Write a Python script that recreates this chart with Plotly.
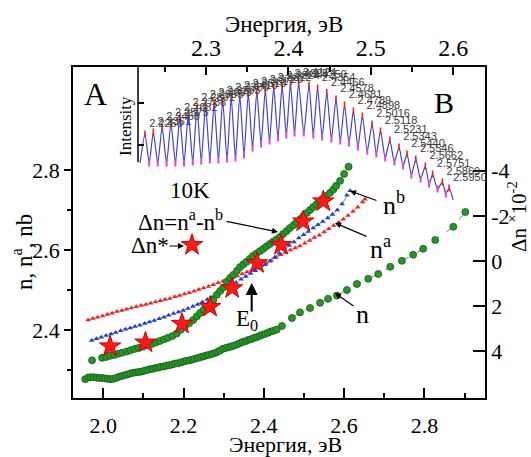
import plotly.graph_objects as go

SERIF = "Liberation Serif"
SANS = "Liberation Sans"

# ---------------- main panel data ----------------
# lower green curve: n
n_E = [1.955, 1.962, 1.969, 1.976, 1.983, 1.990, 1.997, 2.004, 2.011, 2.018, 2.025, 2.032, 2.039,
       2.046, 2.053, 2.060, 2.067, 2.074, 2.081, 2.088, 2.095, 2.102, 2.109, 2.116, 2.123, 2.130,
       2.137, 2.144, 2.151, 2.158, 2.165, 2.172, 2.179, 2.186, 2.193, 2.200, 2.207, 2.214, 2.221,
       2.228, 2.235, 2.242, 2.249, 2.256, 2.263, 2.270, 2.277, 2.284, 2.291, 2.298, 2.305, 2.312,
       2.319, 2.326, 2.333, 2.340, 2.347, 2.354, 2.361, 2.368, 2.375, 2.382, 2.389, 2.396, 2.403,
       2.410, 2.417, 2.424, 2.432,
       2.445, 2.470, 2.490, 2.515, 2.540, 2.560, 2.582, 2.607, 2.632, 2.660, 2.685, 2.715, 2.744,
       2.772, 2.797, 2.827, 2.872, 2.902]
n_val = [2.277, 2.281, 2.282, 2.282, 2.281, 2.280, 2.280, 2.279, 2.278, 2.277, 2.278, 2.280, 2.283,
         2.285, 2.287, 2.289, 2.291, 2.293, 2.294, 2.295, 2.296, 2.298, 2.300, 2.302, 2.303, 2.305,
         2.306, 2.308, 2.309, 2.311, 2.312, 2.314, 2.316, 2.317, 2.319, 2.321, 2.323, 2.324, 2.326,
         2.328, 2.330, 2.332, 2.334, 2.336, 2.338, 2.340, 2.342, 2.345, 2.349, 2.353, 2.355, 2.357,
         2.359, 2.361, 2.364, 2.367, 2.370, 2.372, 2.375, 2.377, 2.380, 2.382, 2.385, 2.388, 2.390,
         2.393, 2.396, 2.398, 2.401,
         2.410, 2.430, 2.444, 2.455, 2.468, 2.478, 2.486, 2.500, 2.515, 2.528, 2.540, 2.558, 2.573,
         2.588, 2.603, 2.625, 2.658, 2.695]

# red triangles: n^a
na_E = [1.962, 1.974, 1.986, 1.998, 2.010, 2.022, 2.034, 2.046, 2.058, 2.070, 2.082, 2.094, 2.106,
        2.118, 2.130, 2.142, 2.154, 2.166, 2.178, 2.190, 2.202, 2.214, 2.226, 2.238, 2.250, 2.262,
        2.274, 2.286, 2.298, 2.310, 2.322, 2.334, 2.346, 2.358, 2.370, 2.382, 2.394, 2.406, 2.418,
        2.430, 2.442, 2.454, 2.466, 2.478, 2.490, 2.502, 2.514, 2.526, 2.538, 2.550, 2.562, 2.574,
        2.586, 2.598, 2.610, 2.622, 2.634, 2.646, 2.652]
na_val = [2.425, 2.429, 2.432, 2.435, 2.439, 2.442, 2.446, 2.449, 2.452, 2.455, 2.458, 2.461, 2.464,
          2.467, 2.470, 2.473, 2.476, 2.479, 2.483, 2.486, 2.490, 2.493, 2.497, 2.501, 2.505, 2.509,
          2.513, 2.518, 2.522, 2.526, 2.531, 2.535, 2.540, 2.545, 2.550, 2.555, 2.561, 2.567, 2.574,
          2.581, 2.588, 2.594, 2.600, 2.605, 2.610, 2.617, 2.624, 2.631, 2.637, 2.645, 2.653, 2.661,
          2.669, 2.677, 2.686, 2.696, 2.707, 2.720, 2.727]

# blue triangles: n^b
nb_E = [1.971, 1.983, 1.995, 2.007, 2.019, 2.031, 2.043, 2.055, 2.067, 2.079, 2.091, 2.103, 2.115,
        2.127, 2.139, 2.151, 2.163, 2.175, 2.187, 2.199, 2.211, 2.223, 2.235, 2.247, 2.259, 2.271,
        2.283, 2.295, 2.307, 2.319, 2.331, 2.343, 2.355, 2.367, 2.379, 2.391, 2.403, 2.415, 2.427,
        2.439, 2.451, 2.463, 2.475, 2.487, 2.499, 2.511, 2.523, 2.535, 2.547, 2.559, 2.571, 2.583,
        2.595, 2.607, 2.615]
nb_val = [2.374, 2.378, 2.382, 2.386, 2.390, 2.394, 2.398, 2.402, 2.405, 2.409, 2.412, 2.416, 2.420,
          2.424, 2.428, 2.432, 2.437, 2.441, 2.445, 2.449, 2.454, 2.459, 2.464, 2.470, 2.476, 2.482,
          2.489, 2.497, 2.504, 2.512, 2.519, 2.527, 2.534, 2.541, 2.548, 2.555, 2.563, 2.572, 2.582,
          2.592, 2.601, 2.611, 2.620, 2.630, 2.638, 2.646, 2.655, 2.663, 2.671, 2.680, 2.689, 2.700,
          2.715, 2.737, 2.748]

# upper green curve: delta n = n^a - n^b  (right axis, x10^-2)
dn_E = [1.972, 1.997, 2.007, 2.017, 2.027, 2.037, 2.047, 2.058, 2.068, 2.079, 2.089, 2.099, 2.110,
        2.121, 2.131, 2.141, 2.151, 2.161, 2.172, 2.183, 2.193, 2.204, 2.214, 2.224, 2.233, 2.241,
        2.250, 2.258, 2.266, 2.274, 2.283, 2.291, 2.299, 2.308, 2.316, 2.324, 2.333, 2.341, 2.349,
        2.357, 2.365, 2.373, 2.381, 2.390, 2.398, 2.406, 2.415, 2.423, 2.431, 2.440, 2.448, 2.457,
        2.465, 2.474, 2.482, 2.491, 2.499, 2.507, 2.515, 2.523, 2.531, 2.539, 2.546, 2.556, 2.565,
        2.573, 2.580, 2.590, 2.600, 2.611]
dn_val = [4.41, 4.30, 4.26, 4.21, 4.17, 4.12, 4.07, 4.02, 3.96, 3.90, 3.85, 3.80, 3.74,
          3.68, 3.62, 3.55, 3.48, 3.41, 3.33, 3.22, 3.05, 2.88, 2.76, 2.62, 2.46, 2.31,
          2.17, 2.03, 1.90, 1.74, 1.50, 1.33, 1.18, 0.92, 0.76, 0.62, 0.44, 0.27, 0.15,
          0.04, -0.09, -0.22, -0.32, -0.43, -0.53, -0.64, -0.75, -0.85, -0.95, -1.06, -1.19, -1.33,
          -1.46, -1.59, -1.72, -1.86, -2.00, -2.13, -2.26, -2.39, -2.51, -2.63, -2.75, -2.89, -3.02,
          -3.17, -3.33, -3.55, -3.86, -4.18]

# red stars: delta n*
star_E = [2.017, 2.105, 2.196, 2.266, 2.321, 2.383, 2.443, 2.498, 2.548]
star_val = [3.79, 3.62, 2.79, 2.04, 1.21, 0.10, -0.71, -1.75, -2.64]

# legend sample star
key_E = [2.221]
key_n = [2.6125]

# ---------------- inset (interference spectrum) ----------------
peak_E = [2.2260, 2.2361, 2.2468, 2.2575, 2.2682, 2.2786, 2.2891, 2.2995, 2.3099, 2.3203, 2.3306,
          2.3410, 2.3513, 2.3617, 2.3720, 2.3822, 2.3924, 2.4025, 2.4124, 2.4250, 2.4354, 2.4466,
          2.4578, 2.4681, 2.4789, 2.4898, 2.5016, 2.5118, 2.5231, 2.5343, 2.5440, 2.5546, 2.5662,
          2.5751, 2.5869, 2.5950]
peak_I = [264, 266, 271, 275, 280, 285, 290, 293, 295, 297.5, 300.5, 302.5, 304.5, 306, 308, 310.5,
          312, 314, 315, 313, 310, 305.5, 299, 293, 287, 282, 274, 267, 258, 251, 244, 239, 232,
          224, 216, 210]
min_E = [2.2200, 2.2311, 2.2415, 2.2522, 2.2629, 2.2734, 2.2839, 2.2943, 2.3047, 2.3151, 2.3255,
         2.3358, 2.3462, 2.3565, 2.3669, 2.3771, 2.3873, 2.3975, 2.4075, 2.4187, 2.4302, 2.4410,
         2.4522, 2.4630, 2.4735, 2.4844, 2.4957, 2.5067, 2.5175, 2.5287, 2.5392, 2.5493, 2.5604,
         2.5707, 2.5810, 2.5910, 2.6000]
min_I = [235, 235, 235, 235, 235, 235, 236, 237, 238, 238, 239, 240, 243, 250, 254, 257, 260, 263,
         265, 265, 263, 261, 259, 257, 255, 251, 247, 244, 240, 236, 232, 223, 219, 214, 209, 204,
         198]
peak_labels = ["%.4f" % e for e in peak_E]

x_ticks = [2.0, 2.2, 2.4, 2.6, 2.8]
x_minor = [2.1, 2.3, 2.5, 2.7, 2.9]
y_ticks = [2.4, 2.6, 2.8]
y_minor = [2.3, 2.5, 2.7]
y2_ticks = [-4, -2, 0, 2, 4]
top_ticks = [2.3, 2.4, 2.5, 2.6]
top_minor = [2.25, 2.35, 2.45, 2.55]
int_ticks = [253, 295]

# ---------------- geometry helpers ----------------
L, R, T, B = 73, 485, 67, 398
W, H = 531, 457


def P(px, py):
    return (px - L) / (R - L), (B - py) / (B - T)


fig = go.Figure()

GREEN = "#2a942a"
GREEN_EDGE = "#135f13"

# inset fringes
fr_x, fr_y = [], []
for i in range(len(peak_E)):
    fr_x += [min_E[i], peak_E[i]]
    fr_y += [min_I[i], peak_I[i]]
fr_x.append(min_E[-1])
fr_y.append(min_I[-1])

fig.add_trace(go.Scatter(x=fr_x, y=fr_y, xaxis="x3", yaxis="y3", mode="lines",
                         line=dict(color="#4040d8", width=1.2, shape="spline", smoothing=0.6),
                         showlegend=False, hoverinfo="skip"))
fig.add_trace(go.Scatter(x=min_E[1:-1], y=min_I[1:-1], xaxis="x3", yaxis="y3", mode="markers",
                         marker=dict(symbol="line-ns-open", size=5, color="#dd44dd",
                                     line=dict(color="#dd44dd", width=2)),
                         showlegend=False, cliponaxis=False))
fig.add_trace(go.Scatter(x=peak_E, y=peak_I, xaxis="x3", yaxis="y3", mode="markers+text",
                         marker=dict(symbol="line-ns-open", size=5, color="#ee2222",
                                     line=dict(color="#ee2222", width=1.6)),
                         text=peak_labels, textposition="top right",
                         textfont=dict(family=SANS, size=11, color="#3a3a3a"),
                         showlegend=False, cliponaxis=False))

# main data
fig.add_trace(go.Scatter(x=n_E, y=n_val, mode="lines+markers",
                         line=dict(color="#666666", width=0.8, dash="dash"),
                         marker=dict(symbol="circle", size=7, color=GREEN,
                                     line=dict(color=GREEN_EDGE, width=0.8)),
                         showlegend=False))
fig.add_trace(go.Scatter(x=na_E, y=na_val, mode="lines+markers",
                         line=dict(color="#f05050", width=0.8, dash="dash"),
                         marker=dict(symbol="triangle-up", size=5, color="#e82828"),
                         showlegend=False))
fig.add_trace(go.Scatter(x=nb_E, y=nb_val, mode="lines+markers",
                         line=dict(color="#4060e0", width=0.8, dash="dash"),
                         marker=dict(symbol="triangle-up", size=5, color="#2040d0"),
                         showlegend=False))
fig.add_trace(go.Scatter(x=dn_E, y=dn_val, yaxis="y2", mode="markers",
                         marker=dict(symbol="circle", size=7, color=GREEN,
                                     line=dict(color=GREEN_EDGE, width=0.8)),
                         showlegend=False))
fig.add_trace(go.Scatter(x=star_E, y=star_val, yaxis="y2", mode="markers",
                         marker=dict(symbol="star", size=16, color="#ff1a1a",
                                     line=dict(color="#cc0000", width=1)),
                         showlegend=False))
fig.add_trace(go.Scatter(x=key_E, y=key_n, mode="markers",
                         marker=dict(symbol="star", size=16, color="#ff1a1a",
                                     line=dict(color="#cc0000", width=1)),
                         showlegend=False))

# ---------------- annotations ----------------
ann = []


def txt(s, px, py, size, angle=0, family=SERIF):
    x, y = P(px, py)
    ann.append(dict(text=s, x=x, y=y, xref="paper", yref="paper", showarrow=False,
                    font=dict(family=family, size=size, color="black"), textangle=angle,
                    xanchor="center", yanchor="middle"))


def arrow(tx, ty, hx, hy, head=2, width=1.2, size=1.0):
    x, y = P(hx, hy)
    ann.append(dict(text="", x=x, y=y, xref="paper", yref="paper", showarrow=True,
                    ax=tx - hx, ay=ty - hy, axref="pixel", ayref="pixel",
                    arrowhead=head, arrowwidth=width, arrowsize=size, arrowcolor="black",
                    standoff=0, startstandoff=0))


txt("A", 95, 94, 32)
txt("B", 444, 102, 30)
txt("10K", 190, 190, 23)
txt("Δn=n<sup>a</sup>-n<sup>b</sup>", 180, 220, 23)
txt("Δn*", 150, 245, 23)
arrow(225, 221, 278, 232)
arrow(168, 246, 184, 246)
txt("n<sup>b</sup>", 394, 203, 26)
arrow(378, 201, 350, 191)
txt("n<sup>a</sup>", 380, 247, 26)
arrow(368, 237, 335, 223)
txt("n", 362, 314, 26)
arrow(355, 307, 335, 293)
arrow(251.7, 313, 251.7, 283, head=2, width=2, size=1.2)
txt("E<sub>0</sub>", 247, 320, 23)
txt("Энергия, эВ", 285, 444, 22)
txt("Энергия, эВ", 284, 25, 23)
txt("n, n<sup>a</sup>, nb", 22, 252, 23, angle=-90)
txt("Δn <sup>×</sup>10<sup>-2</sup>", 517, 217, 21, angle=-90)
txt("Intensity", 126, 126, 17, angle=-90)

x0, y0 = P(138, 162)
x1, y1 = P(138, 67)
shapes = [dict(type="line", xref="paper", yref="paper", x0=x0, y0=y0, x1=x1, y1=y1,
               line=dict(color="black", width=1.5))]

axfont = dict(family=SERIF, size=22, color="black")
fig.update_layout(
    width=W, height=H,
    margin=dict(l=L, r=W - R, t=T, b=H - B),
    paper_bgcolor="white", plot_bgcolor="rgba(0,0,0,0)",
    showlegend=False,
    xaxis=dict(range=[1.9245, 2.951], tickvals=x_ticks, ticktext=["%.1f" % v for v in x_ticks],
               ticks="inside", ticklen=10, tickwidth=1.5, tickcolor="black", ticklabelstandoff=7,
               minor=dict(tickvals=x_minor, ticks="inside", ticklen=5, tickwidth=1.5, tickcolor="black"),
               showline=True, linecolor="black", linewidth=1.5, mirror=True,
               showgrid=False, zeroline=False, tickfont=axfont, domain=[0, 1]),
    yaxis=dict(range=[2.23, 3.0575], tickvals=y_ticks, ticktext=["%.1f" % v for v in y_ticks],
               ticks="outside", ticklen=7, tickwidth=1.5, tickcolor="black",
               minor=dict(tickvals=y_minor, ticks="outside", ticklen=4, tickwidth=1.5, tickcolor="black"),
               showline=True, linecolor="black", linewidth=1.5,
               showgrid=False, zeroline=False, tickfont=axfont),
    yaxis2=dict(range=[6.08, -8.60], overlaying="y", side="right", anchor="x",
                tickvals=y2_ticks, ticktext=[str(v) for v in y2_ticks],
                ticks="inside", ticklen=12, tickwidth=1.5, tickcolor="black",
                showline=True, linecolor="black", linewidth=1.5,
                showgrid=False, zeroline=False, tickfont=axfont),
    xaxis3=dict(domain=[(138 - L) / (R - L), 1], anchor="y3", side="top",
                range=[2.2175, 2.6386], tickvals=top_ticks, ticktext=["%.1f" % v for v in top_ticks],
                ticks="inside", ticklen=8, tickwidth=1.5, tickcolor="black",
                minor=dict(tickvals=top_minor, ticks="inside", ticklen=5, tickwidth=1.5, tickcolor="black"),
                showline=True, linecolor="black", linewidth=1.5,
                showgrid=False, zeroline=False, tickfont=dict(family=SERIF, size=24, color="black")),
    yaxis3=dict(domain=[0, 1], anchor="x3", range=[0, 331], tickvals=int_ticks,
                ticks="inside", ticklen=6, tickwidth=1.5, tickcolor="black",
                showticklabels=False, showline=False, showgrid=False, zeroline=False),
    annotations=ann, shapes=shapes,
)

fig.write_html("out.html")
